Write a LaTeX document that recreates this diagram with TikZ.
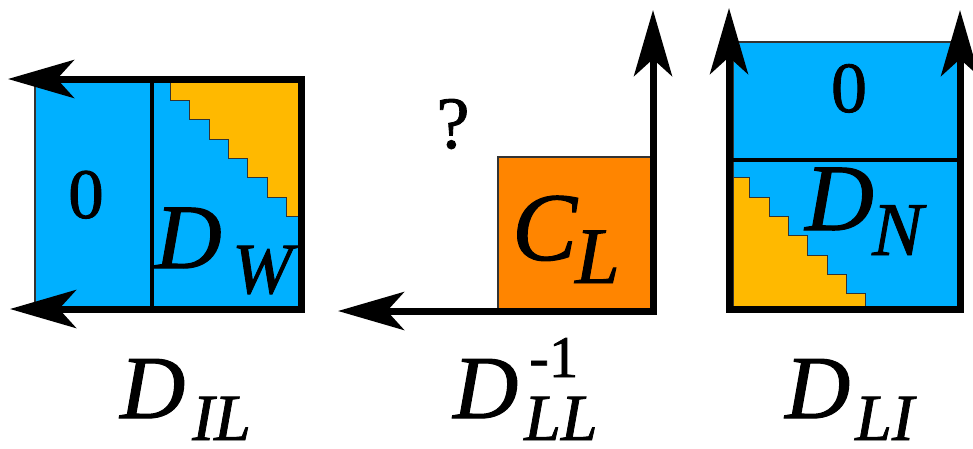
\documentclass[tikz,border=0pt]{standalone}
\usepackage{fontspec}
\setmainfont{Liberation Serif}
\newfontfamily\labfont{Liberation Serif}[FakeBold=1.2]
\usetikzlibrary{arrows.meta}
\definecolor{myblue}{RGB}{0,176,255}
\definecolor{myorange}{RGB}{255,133,0}
\definecolor{myyellow}{RGB}{255,185,0}
\begin{document}
\begin{tikzpicture}[x=1pt,y=-1pt,
  blk/.style={fill=myblue,draw=black!80,line width=1.2pt},
  stair/.style={fill=myyellow,draw=black!80,line width=0.8pt},
  org/.style={fill=myorange,draw=black!80,line width=1.5pt},
  divider/.style={draw=black,line width=3.5pt},
  axis/.style={draw=black,line width=7pt,miter limit=10},
  lbl/.style={inner sep=0pt,anchor=base west},
]
\useasboundingbox (0,0) rectangle (973,448);

% ---------------- left block D_IL ----------------
\path[blk] (35,79) rectangle (300,308);
\path[stair] (170,79) -- (170,100) -- (189,100) -- (189,119) -- (209,119) -- (209,139)
  -- (228,139) -- (228,158) -- (247,158) -- (247,177) -- (267,177) -- (267,197)
  -- (286,197) -- (286,216) -- (298,216) -- (298,79) -- cycle;
\draw[divider] (152,79) -- (152,308);
\coordinate (lt) at (8,79);
\coordinate (ltr) at (301,79);
\coordinate (lbr) at (301,309);
\coordinate (lb) at (10,309);
\draw[axis,{Stealth[length=66pt,width=38pt,inset=17pt]}-{Stealth[length=66pt,width=38pt,inset=17pt]}] (lt) -- (ltr) -- (lbr) -- (lb);
\node[lbl,anchor=base,font=\labfont\fontsize{71}{71}\selectfont] (z1) at (86,218) {0};
\node[lbl,font=\labfont\fontsize{92}{92}\selectfont\itshape] (dw) at (155,268) {D};
\node[lbl,font=\labfont\fontsize{72}{72}\selectfont\itshape] (w) at (232,293) {W};

% ---------------- middle block D_LL^{-1} ----------------
\path[org] (498,157) rectangle (652,311);
\coordinate (mb) at (338,311);
\coordinate (mc) at (653,311);
\coordinate (mt) at (653,10);
\draw[axis,{Stealth[length=66pt,width=38pt,inset=17pt]}-{Stealth[length=66pt,width=38pt,inset=17pt]}] (mb) -- (mc) -- (mt);
\node[lbl,anchor=base,font=\labfont\fontsize{74}{74}\selectfont] (q) at (453,148) {?};
\node[lbl,font=\labfont\fontsize{97}{97}\selectfont\itshape] (cl) at (512,260) {C};
\node[lbl,font=\labfont\fontsize{80}{80}\selectfont\itshape] (l) at (575,283) {L};

% ---------------- right block D_LI ----------------
\path[blk] (733,42) rectangle (958,309);
\path[stair] (733,177) -- (749,177) -- (749,197) -- (769,197) -- (769,216) -- (788,216)
  -- (788,235) -- (807,235) -- (807,255) -- (827,255) -- (827,274) -- (846,274)
  -- (846,293) -- (865,293) -- (865,306) -- (733,306) -- cycle;
\draw[divider] (733,160) -- (958,160);
\coordinate (rl) at (729,8);
\coordinate (rbl) at (729,309);
\coordinate (rbr) at (960,309);
\coordinate (rr) at (960,10);
\draw[axis,{Stealth[length=66pt,width=38pt,inset=17pt]}-{Stealth[length=66pt,width=38pt,inset=17pt]}] (rl) -- (rbl) -- (rbr) -- (rr);
\node[lbl,anchor=base,font=\labfont\fontsize{72}{72}\selectfont] (z2) at (849,112) {0};
\node[lbl,font=\labfont\fontsize{95}{95}\selectfont\itshape] (dn) at (805,230) {D};
\node[lbl,font=\labfont\fontsize{76}{76}\selectfont\itshape] (n) at (872,255) {N};

% ---------------- bottom labels ----------------
\node[lbl,font=\labfont\fontsize{90}{90}\selectfont\itshape] (dil) at (120,418) {D};
\node[lbl,font=\labfont\fontsize{66}{66}\selectfont\itshape] (il) at (192,440) {IL};
\node[lbl,font=\labfont\fontsize{90}{90}\selectfont\itshape] (dll) at (453,418) {D};
\node[lbl,font=\labfont\fontsize{66}{66}\selectfont\itshape] (ll) at (524,440) {LL};
\node[lbl,font=\labfont\fontsize{59}{59}\selectfont] (inv) at (529,377) {-1};
\node[lbl,font=\labfont\fontsize{90}{90}\selectfont\itshape] (dli) at (785,418) {D};
\node[lbl,font=\labfont\fontsize{66}{66}\selectfont\itshape] (li) at (855,440) {LI};
\end{tikzpicture}
\end{document}
